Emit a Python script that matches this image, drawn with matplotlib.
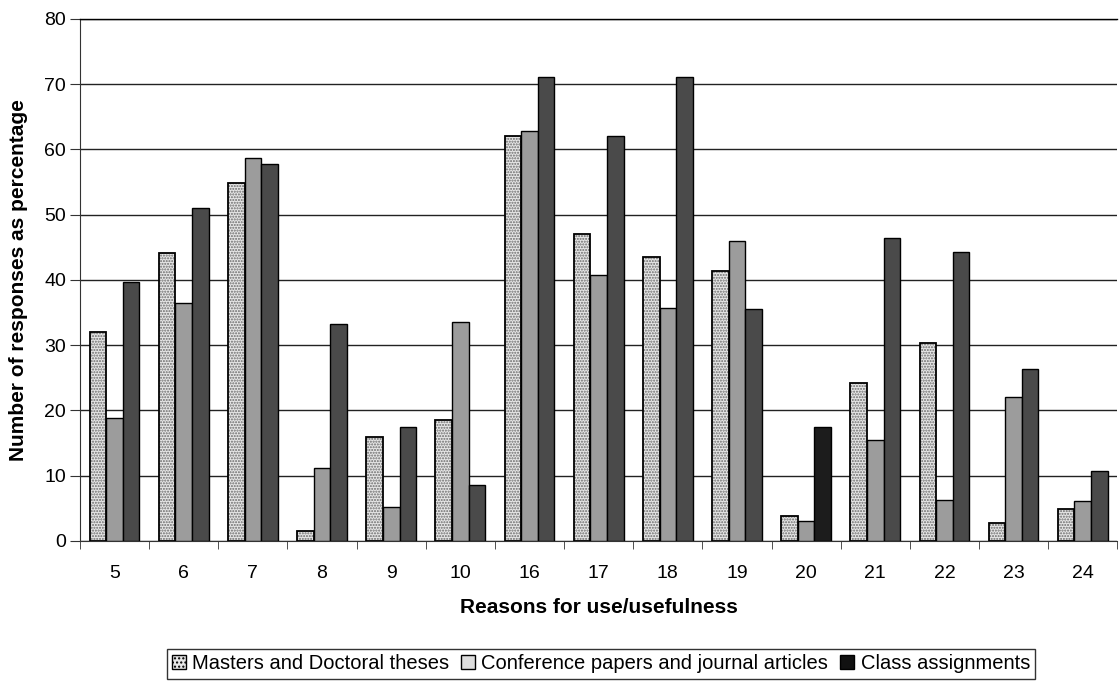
import matplotlib.pyplot as plt
import numpy as np
from matplotlib.patches import Patch

plt.rcParams['font.family'] = ['Liberation Sans', 'DejaVu Sans']

reasons = ['5', '6', '7', '8', '9', '10', '16', '17', '18', '19', '20', '21', '22', '23', '24']
masters = [32.0, 44.2, 54.8, 1.6, 15.9, 18.6, 62.0, 47.0, 43.6, 41.4, 3.8, 24.2, 30.4, 2.7, 4.9]
conference = [18.8, 36.5, 58.7, 11.2, 5.2, 33.6, 62.8, 40.8, 35.7, 46.0, 3.0, 15.5, 6.3, 22.0, 6.2]
classwork = [39.7, 51.1, 57.8, 33.3, 17.5, 8.6, 71.1, 62.0, 71.1, 35.5, 17.5, 46.5, 44.3, 26.4, 10.8]
labels = ['Masters and Doctoral theses', 'Conference papers and journal articles', 'Class assignments']

fig = plt.figure(figsize=(11.19, 6.81), dpi=100)
ax = fig.add_axes([0.0715, 0.2056, 0.927, 0.7665])

x = np.arange(len(reasons))
w = 0.24

# dotted bars: fill with hatch, then a black outline on top
ax.bar(x - w, masters, w, color='#e6e6e6', edgecolor='#6a6a6a', hatch='......', linewidth=0, zorder=3)
ax.bar(x - w, masters, w, fill=False, edgecolor='black', linewidth=1.3, zorder=4)
ax.bar(x, conference, w, color='#9c9c9c', edgecolor='black', linewidth=1.0, zorder=3)
class_colors = ['#1c1c1c' if r == '20' else '#4a4a4a' for r in reasons]
ax.bar(x + w, classwork, w, color=class_colors, edgecolor='black', linewidth=1.0, zorder=3)

ax.set_xlim(-0.5, len(reasons) - 0.5)
ax.set_ylim(0, 80)
ax.set_yticks(range(0, 81, 10))
ax.yaxis.grid(True, color='#222222', linewidth=1.0, zorder=0)
ax.set_xticks(x)
ax.set_xticklabels(reasons, fontsize=14)
ax.set_xticks(np.arange(-0.5, len(reasons)), minor=True)
ax.tick_params(axis='x', which='major', length=0, pad=17)
ax.tick_params(axis='x', which='minor', length=6, color='#333333')
ax.tick_params(axis='y', labelsize=14, length=7, color='#333333', pad=3)
ax.spines['right'].set_visible(False)
ax.spines['top'].set_linewidth(1.0)
ax.spines['left'].set_color('#333333')
ax.spines['bottom'].set_color('#333333')

ax.set_xlabel('Reasons for use/usefulness', fontsize=15, fontweight='bold', labelpad=12)
ax.set_ylabel('Number of responses as percentage', fontsize=15, fontweight='bold')
ax.yaxis.set_label_coords(-0.05, 0.5)

handles = [
    Patch(facecolor='#e6e6e6', edgecolor='black', hatch='....'),
    Patch(facecolor='#dddddd', edgecolor='black'),
    Patch(facecolor='#111111', edgecolor='black'),
]
leg = fig.legend(handles, labels, loc='center', bbox_to_anchor=(0.537, 0.025), ncol=3,
                 fontsize=14.5, frameon=True, fancybox=False, handlelength=0.7, handleheight=0.7,
                 handletextpad=0.3, columnspacing=0.6, borderpad=0.25)
leg.get_frame().set_edgecolor('black')
leg.get_frame().set_linewidth(1.0)

fig.savefig('out.png', dpi=100)
